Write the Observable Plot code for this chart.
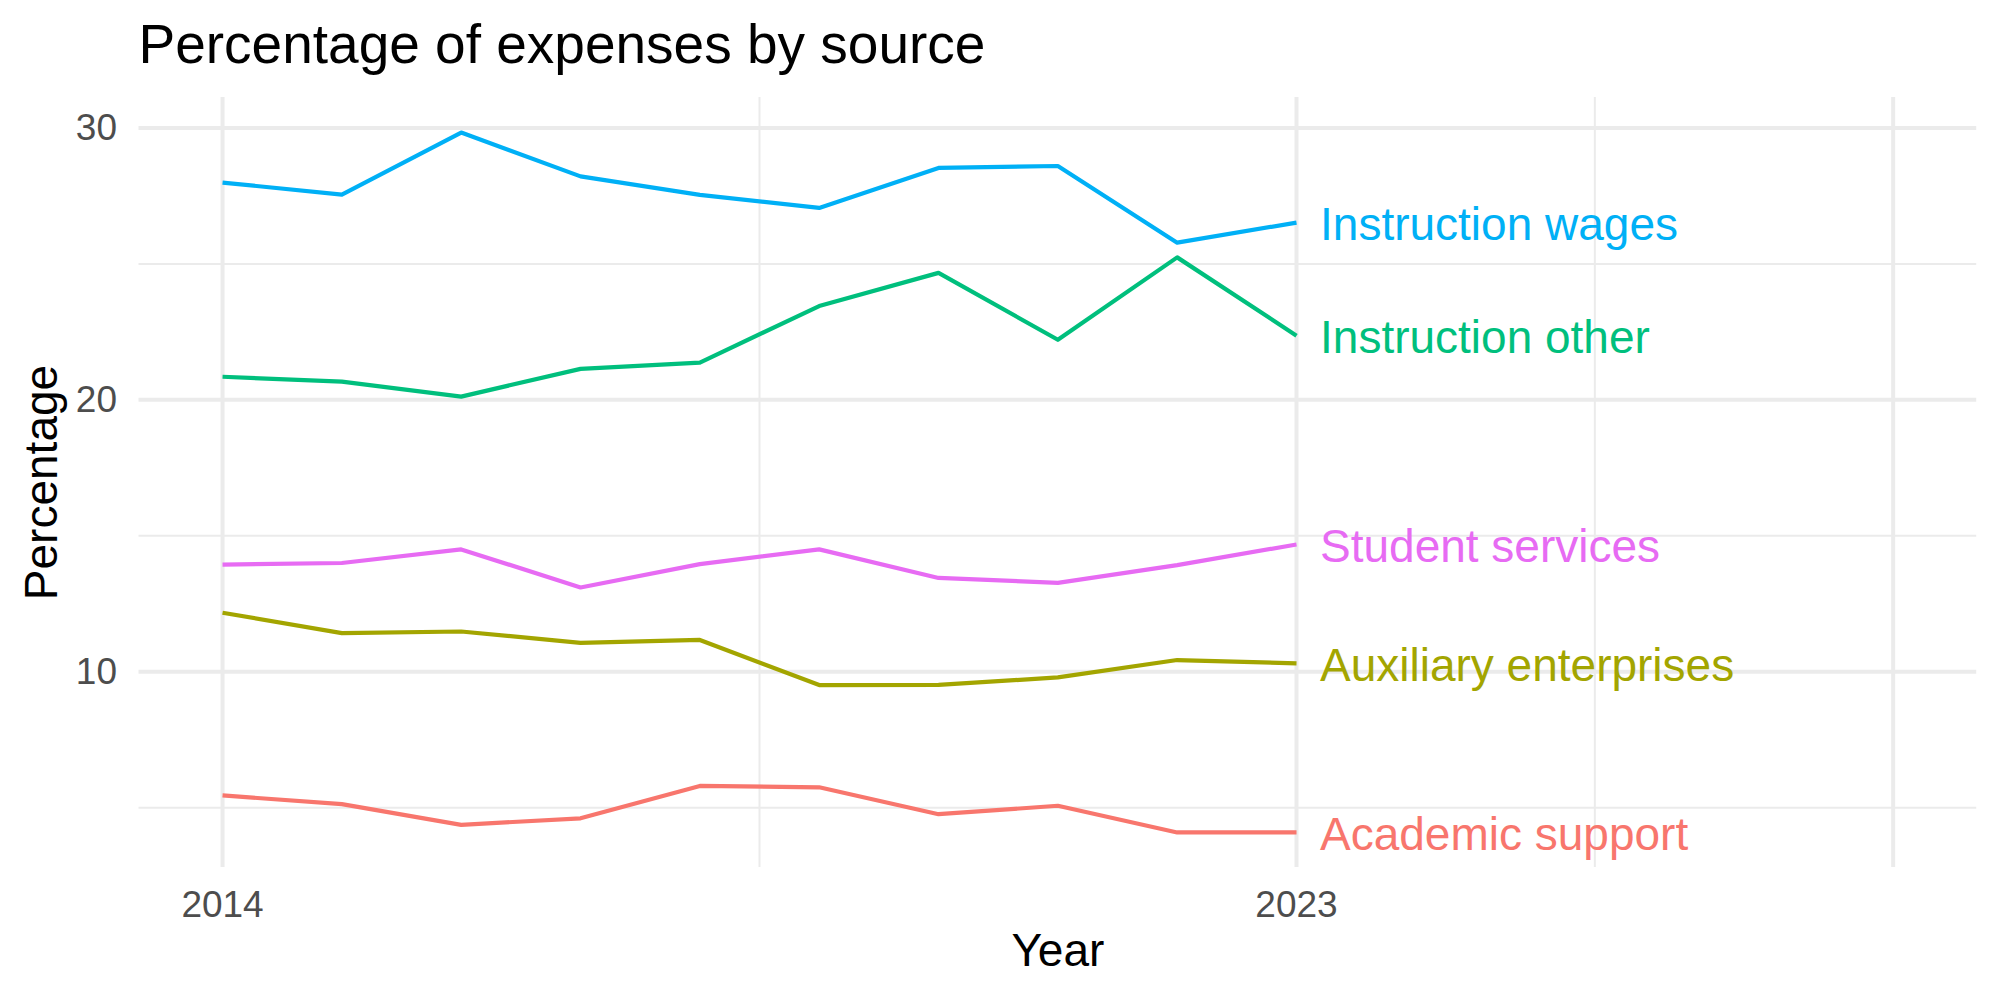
<!DOCTYPE html>
<html><head><meta charset="utf-8">
<script src="https://cdn.jsdelivr.net/npm/d3@7"></script>
<script src="https://cdn.jsdelivr.net/npm/@observablehq/plot@0.6"></script>
<style>
body{margin:0;background:#fff;}
#title{box-sizing:border-box;height:80px;padding:17px 0 0 138.5px;font:55px/55px "Liberation Sans",Arial,sans-serif;color:#000;white-space:nowrap}
</style></head><body>
<div id="title">Percentage of expenses by source</div>
<div id="chart"></div>
<script>
const years = [2014, 2015, 2016, 2017, 2018, 2019, 2020, 2021, 2022, 2023];
const seriesNames = ["Academic support", "Auxiliary enterprises", "Instruction other", "Instruction wages", "Student services"];
const seriesColors = ["#F8766D", "#A3A500", "#00BF7D", "#00B0F6", "#E76BF3"];
const academicSupport      = [5.45, 5.13, 4.37, 4.61, 5.80, 5.75, 4.76, 5.07, 4.09, 4.09];
const auxiliaryEnterprises = [12.17, 11.42, 11.48, 11.06, 11.17, 9.51, 9.52, 9.79, 10.43, 10.31];
const instructionOther     = [20.85, 20.67, 20.12, 21.14, 21.37, 23.45, 24.67, 22.21, 25.24, 22.36];
const instructionWages     = [27.99, 27.55, 29.83, 28.22, 27.54, 27.06, 28.53, 28.60, 25.78, 26.52];
const studentServices      = [13.94, 14.00, 14.50, 13.10, 13.96, 14.50, 13.45, 13.27, 13.92, 14.68];
const yTicksMajor = [10, 20, 30];
const yTicksMinor = [5, 15, 25];
const xGridMajor = [2014, 2023, 2028];
const xGridMinor = [2018.5, 2025.5];
const xTickLabels = [2014, 2023];

const seriesValues = [academicSupport, auxiliaryEnterprises, instructionOther, instructionWages, studentServices];
const rows = [];
seriesNames.forEach((name, i) => {
  years.forEach((yr, j) => rows.push({series: name, year: yr, value: seriesValues[i][j]}));
});
const lastRows = seriesNames.map((name, i) => ({series: name, year: years[years.length - 1], value: seriesValues[i][years.length - 1]}));

const font = '"Liberation Sans", Arial, sans-serif';
const grid = "#EBEBEB";
const chart = Plot.plot({
  width: 2000,
  height: 920,
  marginTop: 17,
  marginBottom: 133,
  marginLeft: 138.5,
  marginRight: 23.8,
  style: {fontFamily: font, background: "#fff", color: "#000"},
  x: {domain: [2013.3, 2028.7]},
  y: {domain: [2.80, 31.12]},
  color: {domain: seriesNames, range: seriesColors},
  marks: [
    Plot.gridY(yTicksMinor, {stroke: grid, strokeOpacity: 1, strokeWidth: 2}),
    Plot.gridX(xGridMinor, {stroke: grid, strokeOpacity: 1, strokeWidth: 2}),
    Plot.gridY(yTicksMajor, {stroke: grid, strokeOpacity: 1, strokeWidth: 4}),
    Plot.gridX(xGridMajor, {stroke: grid, strokeOpacity: 1, strokeWidth: 4}),
    Plot.axisY(yTicksMajor, {tickSize: 0, tickPadding: 22, fontSize: 37, color: "#4D4D4D", fill: "#4D4D4D", label: null}),
    Plot.axisX(xTickLabels, {tickSize: 0, tickPadding: 23, fontSize: 37, color: "#4D4D4D", fill: "#4D4D4D", label: null, tickFormat: d => String(d)}),
    Plot.line(rows, {x: "year", y: "value", z: "series", stroke: "series", strokeWidth: 4.2, strokeLinecap: "butt", strokeLinejoin: "round"}),
    Plot.text(lastRows, {x: "year", y: "value", text: "series", fill: "series", textAnchor: "start", lineAnchor: "middle", dx: 23.5, dy: 2.5, fontSize: 46}),
    Plot.text(["Year"], {text: d => d, frameAnchor: "bottom", textAnchor: "middle", lineAnchor: "bottom", dy: 98, fontSize: 46, fill: "#000"}),
    Plot.text(["Percentage"], {text: d => d, frameAnchor: "left", textAnchor: "middle", lineAnchor: "bottom", rotate: -90, dx: -82.5, fontSize: 46, fill: "#000"})
  ]
});
document.getElementById("chart").appendChild(chart);
</script>
</body></html>
